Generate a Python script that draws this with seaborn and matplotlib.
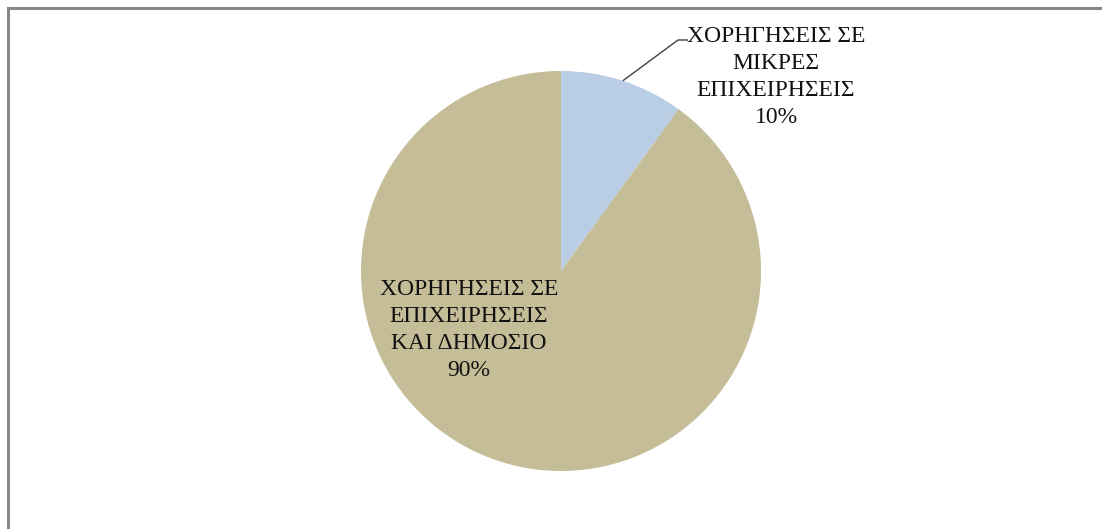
import numpy as np
import matplotlib
matplotlib.use("Agg")
import matplotlib.pyplot as plt
import seaborn as sns

# Funding breakdown
categories = ["ΧΟΡΗΓΗΣΕΙΣ ΣΕ\nΜΙΚΡΕΣ\nΕΠΙΧΕΙΡΗΣΕΙΣ", "ΧΟΡΗΓΗΣΕΙΣ ΣΕ\nΕΠΙΧΕΙΡΗΣΕΙΣ\nΚΑΙ ΔΗΜΟΣΙΟ"]
shares = [10, 90]
colors = ["#B9CDE5", "#C4BD97"]

sns.set_theme(style="white")
plt.rcParams["font.family"] = ["Liberation Serif", "DejaVu Serif"]

W, H = 1102, 529
fig = plt.figure(figsize=(W / 100, H / 100), dpi=100)
ax = fig.add_axes([0, 0, 1, 1])

cx, cy, r = 561, H - 271, 200
wedges, _ = ax.pie(shares, colors=colors, startangle=90, counterclock=False,
                   center=(cx, cy), radius=r, frame=True,
                   wedgeprops=dict(linewidth=0))
ax.set_xlim(0, W)
ax.set_ylim(0, H)
ax.set_aspect("equal")
ax.axis("off")

fs = 17
total = sum(shares)

# Small slice: label outside with a leader line
w0 = wedges[0]
mid = np.deg2rad((w0.theta1 + w0.theta2) / 2)
ex, ey = cx + r * np.cos(mid), cy + r * np.sin(mid)
kx, ky = 678, H - 40
ax.plot([ex, kx, kx + 10], [ey, ky, ky], color="#404040", lw=1.0,
        solid_capstyle="butt")
ax.text(776, H - 77, f"{categories[0]}\n{shares[0] / total:.0%}",
        ha="center", va="center", fontsize=fs, color="#111111", linespacing=1.38)

# Large slice: label inside the wedge
ax.text(469, H - 330, f"{categories[1]}\n{shares[1] / total:.0%}",
        ha="center", va="center", fontsize=fs, color="#111111", linespacing=1.38)

# Chart-area border (top and left edges)
ax.plot([8, 8, W], [0, H - 8, H - 8], color="#878787", lw=2.2,
        solid_joinstyle="miter", clip_on=False)

fig.savefig("out.png", dpi=100, facecolor="white")
